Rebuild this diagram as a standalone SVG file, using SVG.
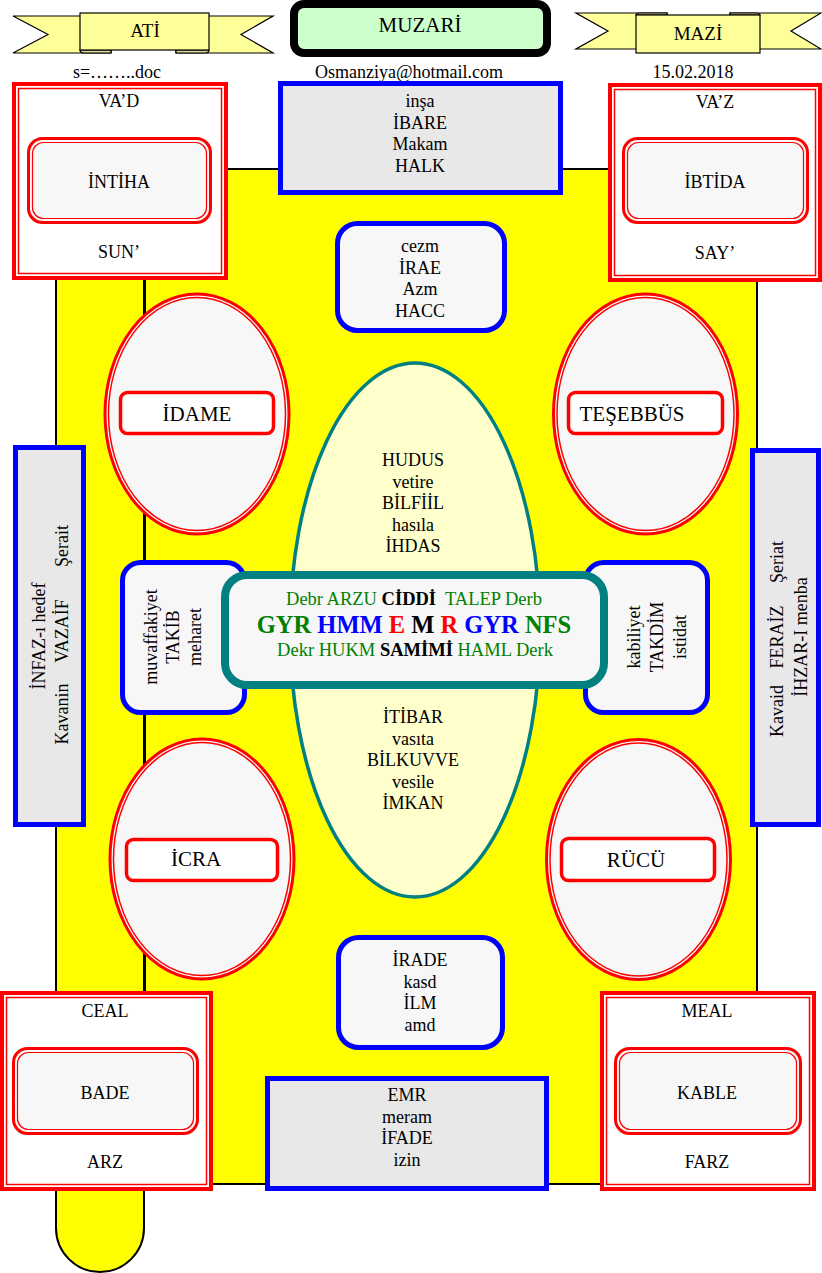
<svg xmlns="http://www.w3.org/2000/svg" width="822" height="1273" viewBox="0 0 822 1273">
<style>
text{font-family:"Liberation Serif","Times New Roman",serif;font-size:18px;fill:#000;text-anchor:middle}
.yel{fill:#ffff00;stroke:#000;stroke-width:2}
.rib{fill:#ffff99;stroke:#000;stroke-width:1.2}
.tab{fill:#d9d39a;stroke:#000;stroke-width:1.2}
.rbox{fill:#fff;stroke:#ff0000;stroke-width:4}
.rthin{fill:none;stroke:#ff0000;stroke-width:1.5}
.rr{fill:#f7f7f7;stroke:#ff0000;stroke-width:3}
.rrthin{fill:none;stroke:#ff0000;stroke-width:1.2}
.bgray{fill:#e8e8e8;stroke:#0000ff;stroke-width:5}
.bround{fill:#f7f7f7;stroke:#0000ff;stroke-width:5}
.ell{fill:#f7f7f7;stroke:#ff0000;stroke-width:3}
.ellthin{fill:none;stroke:#ff0000;stroke-width:1.5}
.lab{fill:#fff;stroke:#ff0000;stroke-width:3.5}
.big{font-size:21px}
.g{fill:#008000}
</style>
<rect width="822" height="1273" fill="#fff"/>
<g id="background">
<path class="yel" d="M56,200 L144,200 L144,1228 A44,44 0 0 1 56,1228 Z"/>
<rect class="yel" x="145" y="169" width="612" height="1015"/>
</g>
<g id="ribbon-ati">
<polygon class="rib" points="13,16 111,16 111,53 13,53 48,34.5"/>
<polygon class="rib" points="176,16 273,16 241,34.5 273,53 176,53"/>
<path class="tab" d="M80,50 L111,50 L111,53 L84,53 Q80,53 80,50 Z"/>
<path class="tab" d="M176,50 L209,50 Q209,53 205,53 L176,53 Z"/>
<rect class="rib" x="80" y="13" width="129" height="37"/>
<text x="145" y="37" style="font-size:19px">ATİ</text>
</g>
<g id="ribbon-mazi">
<polygon class="rib" points="576,13 667,13 667,49 576,49 608,31"/>
<polygon class="rib" points="730,13 821,13 791,31 821,49 730,49"/>
<path class="tab" d="M640,13 L667,13 L667,15 L636,15 Q636,13 640,13 Z"/>
<path class="tab" d="M730,13 L756,13 Q760,13 760,15 L730,15 Z"/>
<rect class="rib" x="636" y="15" width="124" height="38"/>
<text x="698" y="40" style="font-size:19px">MAZİ</text>
</g>
<g id="muzari">
<rect x="294" y="4" width="253" height="49" rx="10" fill="#ccffcc" stroke="#000" stroke-width="8"/>
<text x="420" y="32" style="font-size:21px">MUZARİ</text>
</g>
<g id="header-texts">
<text x="117" y="78">s=……..doc</text>
<text x="409" y="78">Osmanziya@hotmail.com</text>
<text x="693" y="78">15.02.2018</text>
</g>
<g id="vad">
<rect class="rbox" x="14" y="84" width="212" height="194"/>
<rect class="rthin" x="18.5" y="88.5" width="203" height="185"/>
<text x="119" y="107">VA’D</text>
<rect class="rr" x="28.5" y="138.5" width="182" height="84" rx="14"/>
<rect class="rrthin" x="32.5" y="142.5" width="174" height="76" rx="11"/>
<text x="119" y="188">İNTİHA</text>
<text x="119" y="258">SUN’</text>
</g>
<g id="vaz">
<rect class="rbox" x="610" y="85" width="210" height="195"/>
<rect class="rthin" x="614.5" y="89.5" width="201" height="186"/>
<text x="715" y="108">VA’Z</text>
<rect class="rr" x="623.5" y="138.5" width="184" height="84" rx="14"/>
<rect class="rrthin" x="627.5" y="142.5" width="176" height="76" rx="11"/>
<text x="715" y="188">İBTİDA</text>
<text x="715" y="259">SAY’</text>
</g>
<g id="ceal">
<rect class="rbox" x="2" y="993" width="209" height="196"/>
<rect class="rthin" x="6.5" y="997.5" width="200" height="187"/>
<text x="105" y="1017">CEAL</text>
<rect class="rr" x="13.5" y="1048.5" width="184" height="85" rx="14"/>
<rect class="rrthin" x="17.5" y="1052.5" width="176" height="77" rx="11"/>
<text x="105" y="1099">BADE</text>
<text x="105" y="1168">ARZ</text>
</g>
<g id="meal">
<rect class="rbox" x="602" y="993" width="212" height="196"/>
<rect class="rthin" x="606.5" y="997.5" width="203" height="187"/>
<text x="707" y="1017">MEAL</text>
<rect class="rr" x="615.5" y="1048.5" width="185" height="85" rx="14"/>
<rect class="rrthin" x="619.5" y="1052.5" width="177" height="77" rx="11"/>
<text x="707" y="1099">KABLE</text>
<text x="707" y="1168">FARZ</text>
</g>
<g id="insa">
<rect class="bgray" x="280.5" y="83.5" width="280" height="109"/>
<text x="420" y="107">inşa</text>
<text x="420" y="128.5">İBARE</text>
<text x="420" y="150">Makam</text>
<text x="420" y="172">HALK</text>
</g>
<g id="cezm">
<rect class="bround" x="337.5" y="223.5" width="167" height="107" rx="20"/>
<text x="420" y="252">cezm</text>
<text x="420" y="273.5">İRAE</text>
<text x="420" y="295">Azm</text>
<text x="420" y="317">HACC</text>
</g>
<g id="irade">
<rect class="bround" x="338.5" y="937.5" width="164" height="110" rx="20"/>
<text x="420" y="966">İRADE</text>
<text x="420" y="987.5">kasd</text>
<text x="420" y="1009">İLM</text>
<text x="420" y="1031">amd</text>
</g>
<g id="emr">
<rect class="bgray" x="267.5" y="1078.5" width="279" height="110"/>
<text x="407" y="1101">EMR</text>
<text x="407" y="1122.5">meram</text>
<text x="407" y="1144">İFADE</text>
<text x="407" y="1166">izin</text>
</g>
<g id="infaz">
<rect class="bgray" x="15.5" y="447.5" width="68" height="377"/>
<text x="45" y="636" transform="rotate(-90 45 636)">İNFAZ-ı hedef</text>
<text x="68" y="714" transform="rotate(-90 68 714)">Kavanin</text>
<text x="68" y="631" transform="rotate(-90 68 631)">VAZAİF</text>
<text x="68" y="546" transform="rotate(-90 68 546)">Şerait</text>
</g>
<g id="ihzar">
<rect class="bgray" x="752.5" y="450.5" width="66" height="374"/>
<text x="783" y="711" transform="rotate(-90 783 711)">Kavaid</text>
<text x="783" y="637" transform="rotate(-90 783 637)">FERAİZ</text>
<text x="783" y="562" transform="rotate(-90 783 562)">Şeriat</text>
<text x="807" y="637" transform="rotate(-90 807 637)">İHZAR-I menba</text>
</g>
<g id="idame">
<ellipse class="ell" cx="197" cy="414" rx="92" ry="120"/>
<ellipse class="ellthin" cx="197" cy="414" rx="88.5" ry="116.5"/>
<rect class="lab" x="120.5" y="392.5" width="153" height="41" rx="7"/>
<text class="big" x="197" y="421">İDAME</text>
</g>
<g id="tesebbus">
<ellipse class="ell" cx="645.5" cy="414" rx="92" ry="120"/>
<ellipse class="ellthin" cx="645.5" cy="414" rx="88.5" ry="116.5"/>
<rect class="lab" x="568.5" y="392.5" width="154" height="41" rx="7"/>
<text class="big" x="632" y="421">TEŞEBBÜS</text>
</g>
<g id="icra">
<ellipse class="ell" cx="202" cy="859" rx="92" ry="120"/>
<ellipse class="ellthin" cx="202" cy="859" rx="88.5" ry="116.5"/>
<rect class="lab" x="126.5" y="839.5" width="151" height="41" rx="7"/>
<text class="big" x="196" y="866">İCRA</text>
</g>
<g id="rucu">
<ellipse class="ell" cx="638.5" cy="859.5" rx="92" ry="120"/>
<ellipse class="ellthin" cx="638.5" cy="859.5" rx="88.5" ry="116.5"/>
<rect class="lab" x="561.5" y="838.5" width="153" height="42" rx="7"/>
<text class="big" x="636" y="867">RÜCÜ</text>
</g>
<g id="center-ellipse">
<ellipse cx="415" cy="630" rx="125" ry="267" fill="#ffffcc" stroke="#008080" stroke-width="3.5"/>
<text x="413" y="466">HUDUS</text>
<text x="413" y="487.5">vetire</text>
<text x="413" y="509">BİLFİİL</text>
<text x="413" y="530.5">hasıla</text>
<text x="413" y="552">İHDAS</text>
<text x="413" y="723">İTİBAR</text>
<text x="413" y="744.5">vasıta</text>
<text x="413" y="766">BİLKUVVE</text>
<text x="413" y="787.5">vesile</text>
<text x="413" y="809">İMKAN</text>
</g>
<g id="muvaffakiyet">
<rect class="bround" x="122.5" y="562.5" width="122" height="150" rx="18"/>
<text x="157" y="637" transform="rotate(-90 157 637)">muvaffakiyet</text>
<text x="179" y="637" transform="rotate(-90 179 637)">TAKİB</text>
<text x="201" y="637" transform="rotate(-90 201 637)">meharet</text>
</g>
<g id="kabiliyet">
<rect class="bround" x="585.5" y="562.5" width="122" height="150" rx="18"/>
<text x="640" y="637" transform="rotate(-90 640 637)">kabiliyet</text>
<text x="663" y="637" transform="rotate(-90 663 637)">TAKDİM</text>
<text x="686" y="637" transform="rotate(-90 686 637)">istidat</text>
</g>
<g id="center-box">
<rect x="225" y="575" width="379" height="110" rx="22" fill="#f7f7f7" stroke="#008080" stroke-width="8"/>
<text x="414" y="605" xml:space="preserve" style="font-size:18.5px"><tspan class="g">Debr ARZU </tspan><tspan font-weight="bold">CİDDİ</tspan><tspan class="g">  TALEP Derb</tspan></text>
<text x="414" y="633" xml:space="preserve" style="font-size:24.5px;font-weight:bold"><tspan class="g">GYR </tspan><tspan fill="#0000ff">HMM </tspan><tspan fill="#ff0000">E </tspan><tspan>M </tspan><tspan fill="#ff0000">R </tspan><tspan fill="#0000ff">GYR </tspan><tspan class="g">NFS</tspan></text>
<text x="415" y="656" xml:space="preserve" style="font-size:18.5px"><tspan class="g">Dekr HUKM </tspan><tspan font-weight="bold">SAMİMİ</tspan><tspan class="g"> HAML Derk</tspan></text>
</g>
</svg>
